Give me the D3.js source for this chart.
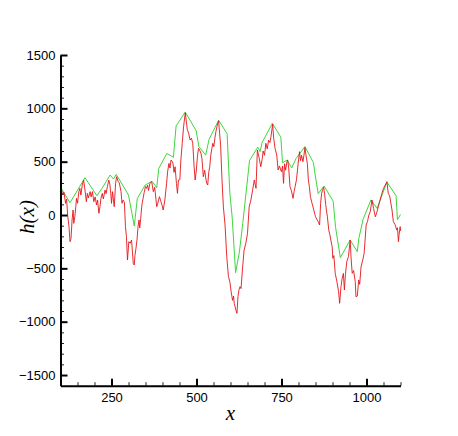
<!DOCTYPE html>
<html>
<head>
<meta charset="utf-8">
<script src="https://cdn.jsdelivr.net/npm/d3@7"></script>
<style>
  html, body { margin: 0; padding: 0; background: #fff; }
  svg { display: block; }
</style>
</head>
<body>
<svg id="chart" width="458" height="436"></svg>
<script>
// ---------- data ----------
const xMajorTicks = [250, 500, 750, 1000];
const xMinorTicks = [150, 200, 300, 350, 400, 450, 550, 600, 650, 700, 800, 850, 900, 950, 1050, 1100];
const yMajorTicks = [-1500, -1000, -500, 0, 500, 1000, 1500];
const yMinorTicks = [-1400, -1300, -1200, -1100, -900, -800, -700, -600, -400, -300, -200, -100,
                     100, 200, 300, 400, 600, 700, 800, 900, 1100, 1200, 1300, 1400];

// red signal h(x)
const redX = [100,103,106,110,115,118,121,125,128,131,134,137,139,142,145,147,150,154,157,160,164,168,172,176,179,182,187,190,194,198,202,206,209,213,216,219,223,226,231,234,238,242,245,248,250,253,258,262,265,270,273,278,281,284,288,291,294,297,301,305,309,314,317,319,322,325,328,331,333,336,338,340,343,346,350,353,356,359,363,368,370,373,377,381,383,386,391,395,398,402,407,412,415,419,422,425,429,431,434,437,441,444,447,451,454,458,462,467,470,473,477,481,485,489,493,496,499,503,506,509,513,516,520,524,528,530,533,536,539,542,545,548,551,554,557,561,565,568,571,575,579,584,589,594,598,602,606,609,611,616,619,622,625,628,631,635,640,645,650,655,660,665,670,675,679,684,689,693,696,700,704,708,712,716,719,724,727,731,736,740,744,748,750,753,756,759,762,766,768,771,775,779,784,787,790,794,797,799,803,806,809,813,816,819,822,826,829,832,835,839,845,850,854,858,862,865,868,871,874,877,880,882,885,889,892,895,899,901,904,908,913,918,921,925,928,932,935,938,942,947,952,955,958,962,967,969,973,977,980,984,989,993,999,1003,1007,1011,1016,1021,1026,1030,1035,1040,1045,1050,1055,1060,1064,1068,1075,1079,1084,1089,1091,1094,1096,1099,1100];
const redH = [234,234,195,215,109,150,0,-109,-250,-219,-47,47,-78,-20,78,156,110,219,250,187,281,328,234,125,203,160,219,170,219,125,170,94,140,16,78,156,203,150,234,200,266,328,290,200,109,219,78,297,359,312,300,219,109,140,120,-109,-203,-422,-250,-265,-234,-453,-469,-380,-312,-234,-109,-47,-120,-31,47,110,156,210,266,250,281,230,297,312,280,219,260,141,78,110,172,130,100,47,141,297,406,484,440,516,500,480,400,453,297,203,328,330,516,672,828,959,880,800,766,703,720,672,453,328,400,560,625,610,580,531,359,420,330,300,281,400,453,560,620,672,640,720,781,840,884,766,650,328,78,-94,-391,-578,-625,-720,-800,-760,-828,-891,-922,-766,-700,-672,-690,-516,-328,-266,-172,78,140,234,328,250,609,540,453,520,600,560,672,620,700,680,734,853,720,625,562,422,460,420,406,460,297,480,420,500,516,450,266,230,156,220,266,330,420,484,594,510,560,500,560,634,560,484,328,266,172,120,47,-16,-40,-62,-94,109,203,240,260,190,100,47,-16,-141,-180,-234,-297,-406,-380,-547,-625,-719,-828,-672,-600,-547,-703,-560,-437,-390,-234,-422,-547,-520,-625,-766,-760,-609,-650,-484,-422,-359,-94,-60,0,30,141,60,-16,20,80,141,200,250,280,312,203,180,47,-62,-90,-141,-120,-250,-180,-109,-150];

// green upper envelope
const envX = [100,128,172,207,222,246,256,264,300,310,317,326,349,369,383,389,413,432,440,467,499,507,527,537,565,590,598,605,615,626,636,645,656,680,687,693,723,748,753,767,780,793,819,844,849,858,875,902,909,923,952,973,977,990,1013,1031,1060,1087,1091,1100];
const envH = [262,115,350,181,250,375,337,381,187,16,-103,156,281,316,256,437,578,541,836,965,790,641,562,710,888,762,210,-25,-540,-350,-80,187,510,636,594,680,859,730,490,516,440,531,641,490,375,200,272,130,-115,-400,-234,-344,-226,-40,141,62,308,180,-45,5];

// ---------- drawing ----------
const svg = d3.select("#chart");
svg.append("rect").attr("width", 458).attr("height", 436).attr("fill", "#fff");

const x = d3.scaleLinear().domain([100, 1100]).range([60.5, 400.5]);
const y = d3.scaleLinear().domain([-1600, 1500]).range([385.7, 55]);

const redData = redX.map((v, i) => [v, redH[i]]);
const envData = envX.map((v, i) => [v, envH[i]]);

const line = d3.line().x(d => x(d[0])).y(d => y(d[1]));

svg.append("path").datum(envData)
  .attr("d", line).attr("fill", "none")
  .attr("stroke", "#3ed63e").attr("stroke-width", 1);

svg.append("path").datum(redData)
  .attr("d", line).attr("fill", "none")
  .attr("stroke", "#e4141a").attr("stroke-width", 0.9)
  .attr("stroke-linejoin", "round");

// minor ticks
const gxMinor = svg.append("g").attr("transform", `translate(0,${y(-1600)})`)
  .call(d3.axisBottom(x).tickValues(xMinorTicks).tickSize(-3.5).tickFormat(""));
gxMinor.select(".domain").remove();
gxMinor.selectAll("line").attr("stroke", "#222").attr("stroke-width", 1);

const gyMinor = svg.append("g").attr("transform", `translate(${x(100)},0)`)
  .call(d3.axisLeft(y).tickValues(yMinorTicks).tickSize(-3.5).tickFormat(""));
gyMinor.select(".domain").remove();
gyMinor.selectAll("line").attr("stroke", "#222").attr("stroke-width", 1);

// major axes
const gx = svg.append("g").attr("transform", `translate(0,${y(-1600)})`)
  .call(d3.axisBottom(x).tickValues(xMajorTicks).tickSize(-7).tickSizeOuter(0).tickPadding(7)
        .tickFormat(d3.format("d")));
gx.select(".domain").attr("stroke", "#000").attr("stroke-width", 2);
gx.selectAll(".tick line").attr("stroke", "#000").attr("stroke-width", 2);
gx.selectAll("text").attr("font-family", "Liberation Sans, Arial, sans-serif")
  .attr("font-size", 13).attr("fill", "#000");

const gy = svg.append("g").attr("transform", `translate(${x(100)},0)`)
  .call(d3.axisLeft(y).tickValues(yMajorTicks).tickSize(-7).tickSizeOuter(0).tickPadding(5)
        .tickFormat(d3.format("d")));
gy.select(".domain").attr("stroke", "#000").attr("stroke-width", 2);
gy.selectAll(".tick line").attr("stroke", "#000").attr("stroke-width", 2);
gy.selectAll("text").attr("font-family", "Liberation Sans, Arial, sans-serif")
  .attr("font-size", 13).attr("fill", "#000");

// axis titles
svg.append("text")
  .attr("x", 230.5).attr("y", 420)
  .attr("text-anchor", "middle")
  .attr("font-family", "Liberation Serif, Times New Roman, serif")
  .attr("font-style", "italic").attr("font-size", 21)
  .text("x");

svg.append("text")
  .attr("transform", "translate(34,217) rotate(-90)")
  .attr("text-anchor", "middle")
  .attr("font-family", "Liberation Serif, Times New Roman, serif")
  .attr("font-style", "italic").attr("font-size", 21)
  .text("h(x)");
</script>
</body>
</html>
